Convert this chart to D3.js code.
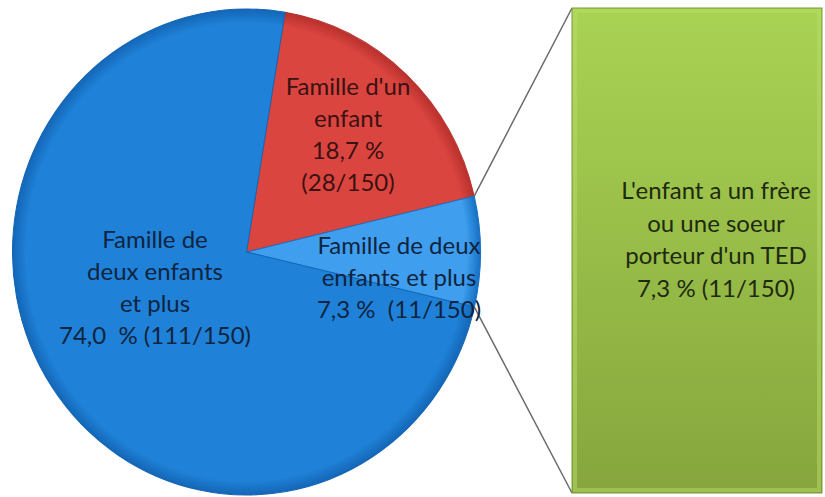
<!DOCTYPE html>
<html>
<head>
<meta charset="utf-8">
<script src="https://cdn.jsdelivr.net/npm/d3@7"></script>
<style>
  body { margin: 0; background: #fff; }
  text { font-family: Lato, "Open Sans", sans-serif; white-space: pre; }
</style>
</head>
<body>
<div id="chart"></div>
<script>
// 1. Data
const sliceNames = ["Famille d'un enfant", "Famille de deux enfants et plus (TED)", "Famille de deux enfants et plus"];
const sliceValues = [28, 11, 111];
const sliceLabels = [
  ["Famille d'un", "enfant", "18,7 %", "(28/150)"],
  ["Famille de deux", "enfants et plus", "7,3 %  (11/150)"],
  ["Famille de", "deux enfants", "et plus", "74,0  % (111/150)"]
];
const barLabels = ["L'enfant a un frère", "ou une soeur", "porteur d'un TED", "7,3 % (11/150)"];
const barValue = 11;

// 2. Dimensions
const dims = { width: 825, height: 497 };
const pieDims = { cx: 246.5, cy: 252, rx: 234, ry: 243 };
const barBox = { x: 572, y: 8, width: 250, height: 485 };

// 3. Container
const svg = d3.select("#chart")
  .append("svg")
  .attr("width", dims.width)
  .attr("height", dims.height);

const defs = svg.append("defs");

const gradColors = [
  ["#db4540", "#b8302c"],
  ["#3f9fee", "#1670c4"],
  ["#1f82d8", "#1466b6"]
];
gradColors.forEach((c, i) => {
  const g = defs.append("radialGradient")
    .attr("id", "slice" + i)
    .attr("gradientUnits", "userSpaceOnUse")
    .attr("cx", 0).attr("cy", 0).attr("r", pieDims.rx);
  g.append("stop").attr("offset", "0%").attr("stop-color", c[0]);
  g.append("stop").attr("offset", "94%").attr("stop-color", c[0]);
  g.append("stop").attr("offset", "100%").attr("stop-color", c[1]);
});

const barGrad = defs.append("linearGradient")
  .attr("id", "barGrad")
  .attr("x1", 0).attr("y1", 0).attr("x2", 0).attr("y2", 1);
barGrad.append("stop").attr("offset", "0%").attr("stop-color", "#a9d353");
barGrad.append("stop").attr("offset", "100%").attr("stop-color", "#86a63d");

// 4. Scales / layout
const startAngle = 9.5 * Math.PI / 180;
const pie = d3.pie()
  .sort(null)
  .value((d) => d)
  .startAngle(startAngle)
  .endAngle(startAngle + 2 * Math.PI);
const arcs = pie(sliceValues);

const arc = d3.arc().innerRadius(0).outerRadius(pieDims.rx);

const pieG = svg.append("g")
  .attr("transform", `translate(${pieDims.cx},${pieDims.cy}) scale(1,${pieDims.ry / pieDims.rx})`);

// 5. Draw
pieG.selectAll("path")
  .data(arcs)
  .join("path")
  .attr("d", arc)
  .attr("fill", (d, i) => `url(#slice${i})`)
  .attr("stroke", (d, i) => gradColors[i][1])
  .attr("stroke-width", 1);

// connector lines from the broken-out slice to the bar
const toScreen = (a) => [
  pieDims.cx + pieDims.rx * Math.sin(a),
  pieDims.cy - pieDims.ry * Math.cos(a)
];
const small = arcs[1];
const p1 = toScreen(small.startAngle);
const p2 = toScreen(small.endAngle);
svg.append("line")
  .attr("x1", p1[0]).attr("y1", p1[1])
  .attr("x2", barBox.x).attr("y2", barBox.y)
  .attr("stroke", "#6b6b6b").attr("stroke-width", 1.5);
svg.append("line")
  .attr("x1", p2[0]).attr("y1", p2[1])
  .attr("x2", barBox.x).attr("y2", barBox.y + barBox.height)
  .attr("stroke", "#6b6b6b").attr("stroke-width", 1.5);

// stacked bar (single value)
const yBar = d3.scaleLinear()
  .domain([0, barValue])
  .range([barBox.y + barBox.height, barBox.y]);

svg.append("rect")
  .attr("x", barBox.x)
  .attr("y", yBar(barValue))
  .attr("width", barBox.width)
  .attr("height", yBar(0) - yBar(barValue))
  .attr("fill", "url(#barGrad)")
  .attr("stroke", "#7a9936")
  .attr("stroke-width", 1);
// bevel highlights
svg.append("rect")
  .attr("x", barBox.x + 3)
  .attr("y", yBar(barValue) + 3)
  .attr("width", barBox.width - 6)
  .attr("height", yBar(0) - yBar(barValue) - 6)
  .attr("fill", "none")
  .attr("stroke", "#b8dc6a")
  .attr("stroke-opacity", 0.5)
  .attr("stroke-width", 4);

// 6. Labels
const labelPos = [
  { x: 348, y: 87 },
  { x: 399, y: 246 },
  { x: 155, y: 240 }
];
const lineH = 32;
sliceLabels.forEach((lines, i) => {
  svg.append("text")
    .attr("text-anchor", "middle")
    .attr("fill", i === 0 ? "#3a1212" : "#0f2440")
    .style("font-size", "24px")
    .selectAll("tspan")
    .data(lines)
    .join("tspan")
    .attr("x", labelPos[i].x)
    .attr("y", (d, j) => labelPos[i].y + j * lineH)
    .attr("dy", "0.35em")
    .text((d) => d);
});

svg.append("text")
  .attr("text-anchor", "middle")
  .attr("fill", "#1e2a10")
  .style("font-size", "24px")
  .selectAll("tspan")
  .data(barLabels)
  .join("tspan")
  .attr("x", 716)
  .attr("y", (d, j) => 191 + j * 32.5)
  .attr("dy", "0.35em")
  .text((d) => d);
</script>
</body>
</html>
